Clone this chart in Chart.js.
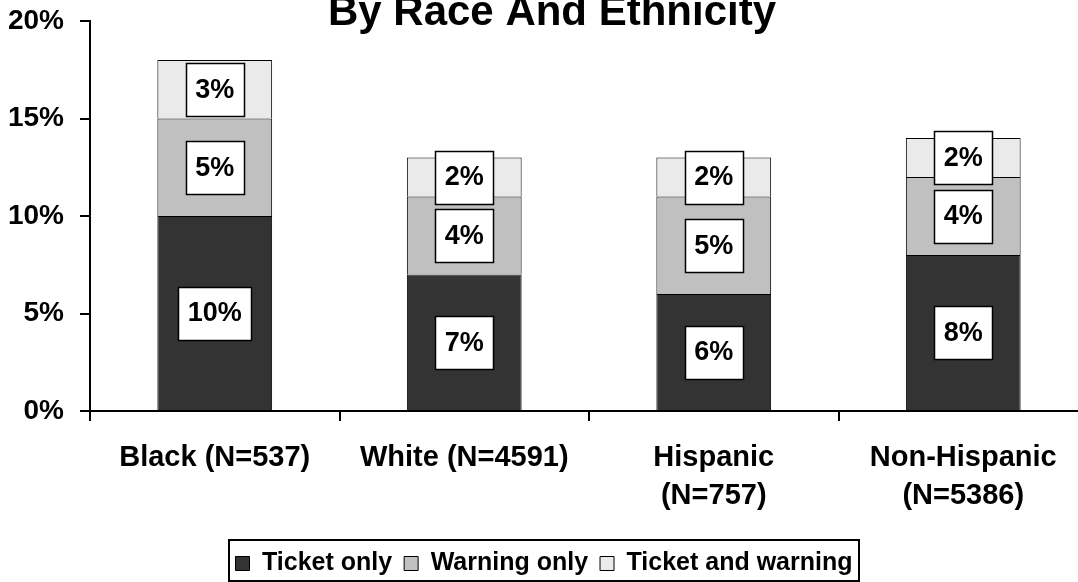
<!DOCTYPE html>
<html>
<head>
<meta charset="utf-8">
<script src="https://cdn.jsdelivr.net/npm/chart.js@4"></script>
<style>
html,body{margin:0;padding:0;background:#fff;overflow:hidden;}
#wrap{position:relative;width:1078px;height:582px;overflow:hidden;}
canvas{position:absolute;left:0;top:0;}
</style>
</head>
<body>
<div id="wrap"><canvas id="c" width="1092" height="586" style="width:1092px;height:586px"></canvas></div>
<script>
const titleText = 'By Race And Ethnicity';
const categories = ['Black (N=537)', 'White (N=4591)', ['Hispanic', '(N=757)'], ['Non-Hispanic', '(N=5386)']];
const seriesNames = ['Ticket only', 'Warning only', 'Ticket and warning'];
const ticketOnly = [10, 7, 6, 8];
const warningOnly = [5, 4, 5, 4];
const ticketAndWarning = [3, 2, 2, 2];
const yTicks = [0, 5, 10, 15, 20];
const colors = ['#333333', '#c0c0c0', '#eaeaea'];
const FONT = 'Arial, "Liberation Sans", sans-serif';

const titlePlugin = {
  id: 'cutTitle',
  afterDraw(chart) {
    const ctx = chart.ctx;
    ctx.save();
    ctx.font = 'bold 42px ' + FONT;
    ctx.fillStyle = '#000';
    ctx.textAlign = 'center';
    ctx.textBaseline = 'alphabetic';
    ctx.fillText(titleText, 552, 25);
    ctx.restore();
  }
};

const labelPlugin = {
  id: 'boxLabels',
  afterDatasetsDraw(chart) {
    const ctx = chart.ctx;
    ctx.save();
    ctx.font = 'bold 27px ' + FONT;
    ctx.textAlign = 'center';
    ctx.textBaseline = 'middle';
    chart.data.datasets.forEach((ds, di) => {
      const meta = chart.getDatasetMeta(di);
      meta.data.forEach((el, i) => {
        const v = ds.data[i];
        const txt = v + '%';
        const cx = el.x;
        const cy = (el.y + el.base) / 2;
        const w = ctx.measureText(txt).width + 19;
        const h = 53;
        const x0 = Math.round(cx - w / 2) + 0.5, y0 = Math.round(cy - h / 2) + 0.5;
        ctx.fillStyle = '#fff';
        ctx.fillRect(x0, y0, Math.round(w), h);
        ctx.lineWidth = 1.5;
        ctx.strokeStyle = '#000';
        ctx.strokeRect(x0, y0, Math.round(w), h);
        ctx.fillStyle = '#000';
        ctx.fillText(txt, cx, cy + 1);
      });
    });
    ctx.restore();
  }
};

const legendBorder = {
  id: 'legendBorder',
  afterDraw(chart) {
    const lg = chart.legend;
    if (!lg || !lg.legendHitBoxes || !lg.legendHitBoxes.length) return;
    let l = Infinity, r = -Infinity, t = Infinity, b = -Infinity;
    lg.legendHitBoxes.forEach(hb => {
      l = Math.min(l, hb.left); r = Math.max(r, hb.left + hb.width);
      t = Math.min(t, hb.top); b = Math.max(b, hb.top + hb.height);
    });
    const ctx = chart.ctx;
    ctx.save();
    ctx.strokeStyle = '#000';
    ctx.lineWidth = 2;
    ctx.strokeRect(Math.round(l - 6), Math.round(t - 11), Math.round(r - l + 13), Math.round(b - t + 16));
    ctx.restore();
  }
};

new Chart(document.getElementById('c'), {
  type: 'bar',
  data: {
    labels: categories,
    datasets: [
      { label: seriesNames[0], data: ticketOnly, backgroundColor: colors[0], borderColor: '#000', borderWidth: 1 },
      { label: seriesNames[1], data: warningOnly, backgroundColor: colors[1], borderColor: '#000', borderWidth: 1 },
      { label: seriesNames[2], data: ticketAndWarning, backgroundColor: colors[2], borderColor: '#000', borderWidth: 1 }
    ]
  },
  options: {
    responsive: false,
    animation: false,
    devicePixelRatio: 1,
    layout: { padding: { top: 21, right: 4, left: 0, bottom: 0 } },
    datasets: { bar: { categoryPercentage: 1, barPercentage: 0.46 } },
    plugins: {
      title: { display: false },
      tooltip: { enabled: false },
      legend: {
        position: 'bottom',
        labels: {
          color: '#000',
          font: { family: FONT, size: 25, weight: 'bold' },
          boxWidth: 14,
          boxHeight: 14,
          padding: 12
        }
      }
    },
    scales: {
      x: {
        stacked: true,
        border: { color: '#000', width: 2 },
        grid: { display: true, drawOnChartArea: false, drawTicks: true, tickLength: 10, color: '#000', lineWidth: 2, offset: true },
        ticks: {
          color: '#000',
          font: { family: FONT, size: 29, weight: 'bold', lineHeight: 1.3 },
          padding: 18,
          maxRotation: 0,
          autoSkip: false
        },
        afterFit(s) { s.height = 128; s.paddingLeft = 0; s.paddingRight = 0; }
      },
      y: {
        stacked: true,
        min: 0,
        max: 20,
        border: { color: '#000', width: 2 },
        grid: { display: true, drawOnChartArea: false, drawTicks: true, tickLength: 10, color: '#000', lineWidth: 2 },
        afterBuildTicks(s) { s.ticks = yTicks.map(v => ({ value: v })); },
        ticks: {
          color: '#000',
          font: { family: FONT, size: 28, weight: 'bold' },
          padding: 16,
          callback: v => v + '%'
        },
        afterFit(s) { s.width = 90; s.paddingTop = 0; s.paddingBottom = 0; }
      }
    }
  },
  plugins: [titlePlugin, labelPlugin, legendBorder]
});
</script>
</body>
</html>
